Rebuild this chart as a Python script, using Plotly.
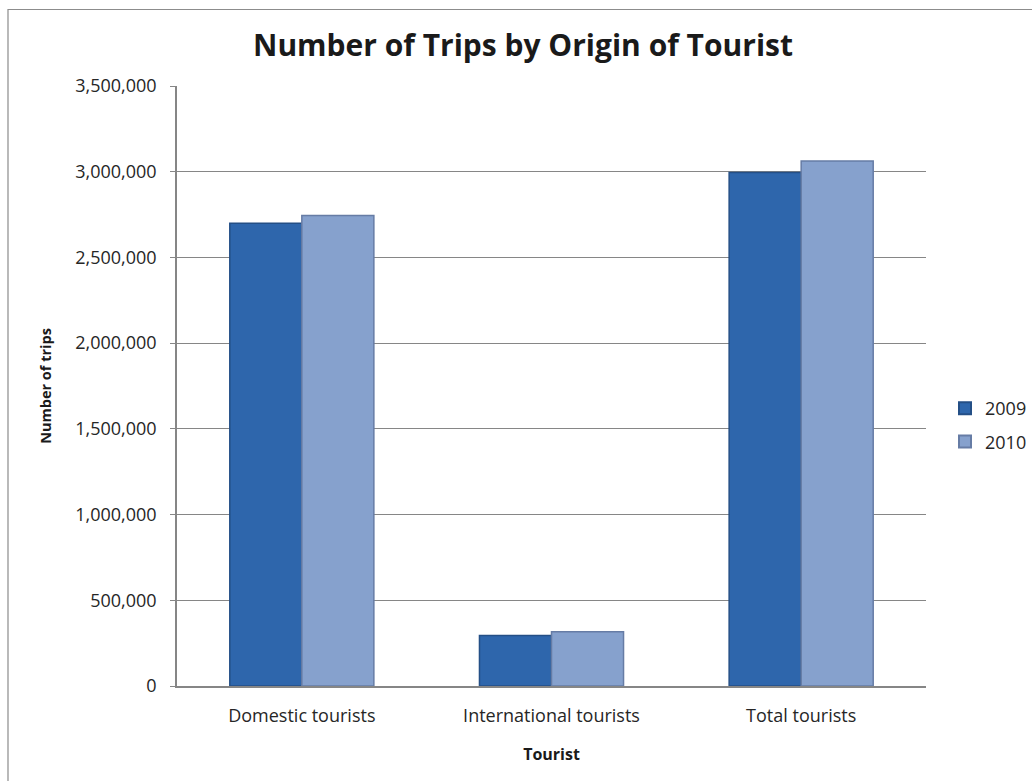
import plotly.graph_objects as go

categories = ["Domestic tourists", "International tourists", "Total tourists"]
series_names = ["2009", "2010"]
values_2009 = [2700000, 295000, 2995000]
values_2010 = [2745000, 317000, 3062000]
y_ticks = [0, 500000, 1000000, 1500000, 2000000, 2500000, 3000000, 3500000]
y_tick_labels = ["0", "500,000", "1,000,000", "1,500,000", "2,000,000",
                 "2,500,000", "3,000,000", "3,500,000"]

W, H = 1032, 781
L, R, T, B = 177, 106, 86, 95
FONT = "'Open Sans', sans-serif"

fig = go.Figure()
fig.add_trace(go.Bar(
    name=series_names[0], x=categories, y=values_2009, legendgroup="a",
    marker=dict(color="#2E66AC", line=dict(color="#244F86", width=1.5)),
))
fig.add_trace(go.Bar(
    name=series_names[1], x=categories, y=values_2010, legendgroup="b",
    marker=dict(color="#86A1CD", line=dict(color="#667CA5", width=1.5)),
))

pw = W - L - R
ph = H - T - B
# outer chart border (left and top edges visible in the reference)
fig.add_shape(type="rect", xref="paper", yref="paper",
              x0=(8 - L) / pw, x1=(W + 10 - L) / pw,
              y0=-(B + 10) / ph, y1=(H - B - 9.5) / ph,
              line=dict(color="#8C8C8C", width=1.2), fillcolor="rgba(0,0,0,0)",
              layer="below")

fig.update_layout(
    width=W, height=H,
    margin=dict(l=L, r=R, t=T, b=B, autoexpand=False),
    paper_bgcolor="white", plot_bgcolor="white",
    barmode="group", bargap=0.423, bargroupgap=0,
    font=dict(family=FONT, color="#262626", size=18),
    title=dict(text="<b>Number of Trips by Origin of Tourist</b>",
               x=523 / W, xref="container", xanchor="center",
               y=1 - 45 / H, yref="container", yanchor="middle",
               font=dict(family=FONT, size=30, color="#1A1A1A")),
    legend=dict(x=(945 - L) / pw, xanchor="left", y=(H - B - 425) / ph, yanchor="middle",
                xref="paper", yref="paper",
                font=dict(family=FONT, size=18, color="#262626"),
                itemsizing="constant", itemwidth=30, tracegroupgap=7,
                bgcolor="rgba(0,0,0,0)"),
    xaxis=dict(
        showline=True, linecolor="#868686", linewidth=1.5,
        ticks="", showgrid=False, ticklabelstandoff=13,
        tickfont=dict(family=FONT, size=18, color="#262626"),
        title=dict(text="<b>Tourist</b>", standoff=22,
                   font=dict(family=FONT, size=16, color="#1A1A1A")),
    ),
    yaxis=dict(
        range=[0, 3500000], tickvals=y_ticks, ticktext=y_tick_labels,
        showline=True, linecolor="#868686", linewidth=1.5,
        ticks="outside", ticklen=5, tickcolor="#868686", tickwidth=1,
        showgrid=True, gridcolor="#868686", gridwidth=1,
        zeroline=False, ticklabelstandoff=10,
        tickfont=dict(family=FONT, size=18, color="#262626"),
        title=dict(text="<b>Number of trips</b>", standoff=20,
                   font=dict(family=FONT, size=14.5, color="#1A1A1A")),
    ),
)

fig.write_html("out.html", config={"displayModeBar": False},
               post_script="document.body.style.margin='0';")
